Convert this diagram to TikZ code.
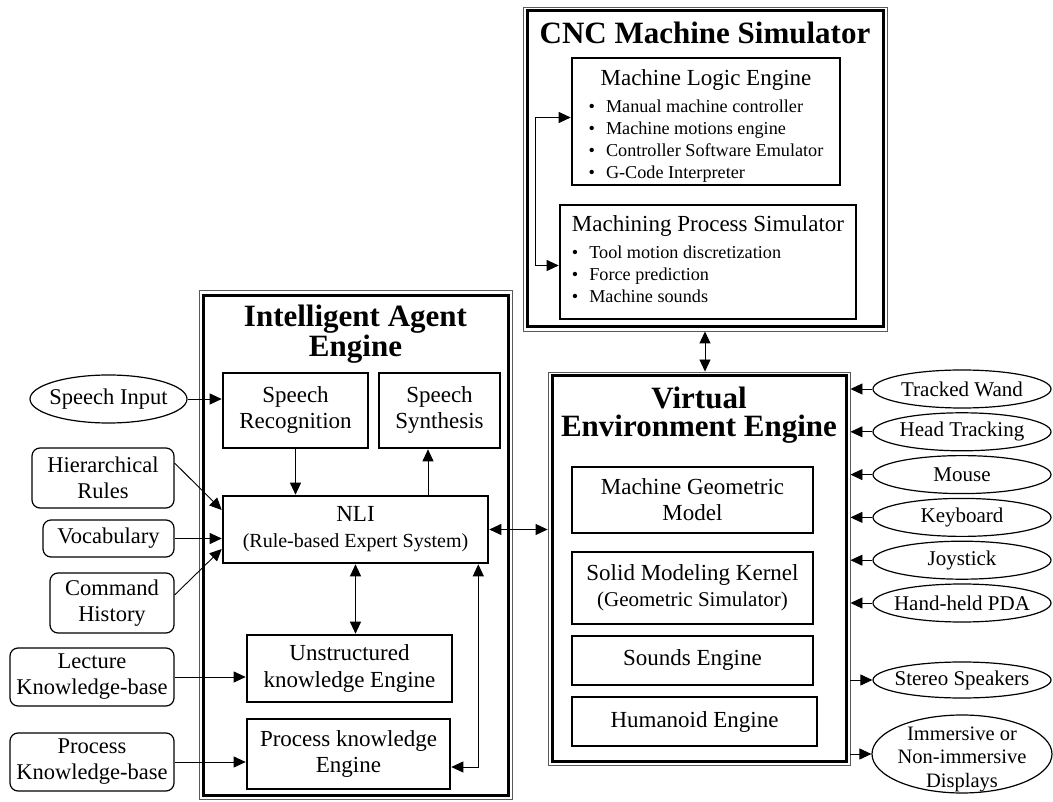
\documentclass[tikz,border=0pt]{standalone}
\usepackage{fontspec}
\setmainfont{Liberation Serif}
\usetikzlibrary{shapes.geometric,arrows.meta,positioning}
\tikzset{
  box/.style={rectangle,draw,line width=2.6pt,align=center,inner sep=0pt,
    font=\fontsize{23}{26}\selectfont},
  src/.style={rectangle,draw,line width=1.2pt,rounded corners=8pt,align=center,
    inner sep=0pt,font=\fontsize{22.5}{26}\selectfont},
  oval/.style={ellipse,draw,line width=1.2pt,align=center,inner sep=-8pt,
    minimum width=178,minimum height=38,font=\fontsize{21}{23.5}\selectfont},
  shell/.style={rectangle,draw,line width=3pt,inner sep=0pt},
  rim/.style={rectangle,draw=black!65,line width=0.9pt,inner sep=0pt},
  ttl/.style={inner sep=0pt,align=center,font=\fontsize{31}{28}\selectfont\bfseries},
  lst/.style={font=\fontsize{18.2}{22}\selectfont},
  arr/.style={-{Triangle[length=12pt,width=11pt]},line width=0.9pt},
  dbl/.style={{Triangle[length=12pt,width=11pt]}-{Triangle[length=12pt,width=11pt]},line width=0.9pt}
}
\begin{document}
\begin{tikzpicture}[x=1pt,y=-1pt]
  \useasboundingbox (0,0) rectangle (1053,802);

  % CNC machine simulator
  \node[rim,minimum width=364,minimum height=324] (cnc) at (705,169) {};
  \node[shell,minimum width=356,minimum height=316] (cncin) at (cnc) {};
  \node[ttl] (cnct) at (705,32.5) {CNC Machine Simulator};
  \node[box,lst,minimum width=268,minimum height=127] (mle) at (706,121.5) {\begin{tabular}{@{}l@{}}
    \multicolumn{1}{@{}c@{}}{\fontsize{23}{26}\selectfont\rule{0pt}{27pt}Machine Logic Engine}\\[5pt]
    \textbullet\hspace{11pt}Manual machine controller\\
    \textbullet\hspace{11pt}Machine motions engine\\
    \textbullet\hspace{11pt}Controller Software Emulator\\
    \textbullet\hspace{11pt}G-Code Interpreter
  \end{tabular}};
  \node[box,lst,minimum width=296,minimum height=114] (mps) at (708,262) {\begin{tabular}{@{}l@{}}
    \multicolumn{1}{@{}c@{}}{\fontsize{23}{26}\selectfont Machining Process Simulator}\\[5pt]
    \textbullet\hspace{11pt}Tool motion discretization\\
    \textbullet\hspace{11pt}Force prediction\\
    \textbullet\hspace{11pt}Machine sounds
  \end{tabular}};

  % intelligent agent engine
  \node[rim,minimum width=313,minimum height=509] (agent) at (355.8,545.1) {};
  \node[shell,minimum width=305,minimum height=500] (agentin) at (agent) {};
  \node[ttl] (agentt) at (355.5,334) {Intelligent Agent\\Engine};
  \node[box,minimum width=145,minimum height=75] (sr) at (295.5,410.5) {Speech\\Recognition};
  \node[box,minimum width=121,minimum height=75] (ss) at (439.5,410.5) {Speech\\Synthesis};
  \node[box,minimum width=265,minimum height=67] (nli) at (355.5,529.5) {NLI\\{\fontsize{20}{24}\selectfont(Rule-based Expert System)}};
  \node[box,minimum width=205,minimum height=67] (unst) at (349.5,668.5) {Unstructured\\knowledge Engine};
  \node[box,minimum width=203,minimum height=70] (proc) at (348.5,754) {Process knowledge\\Engine};

  % virtual environment engine
  \node[rim,minimum width=302,minimum height=393] (venv) at (699,568.5) {};
  \node[shell,minimum width=294,minimum height=385] (venvin) at (venv) {};
  \node[ttl] (venvt) at (699,415) {Virtual\\Environment Engine};
  \node[box,minimum width=241,minimum height=66] (mgm) at (692.5,500) {Machine Geometric\\Model};
  \node[box,minimum width=241,minimum height=72] (smk) at (692.5,588) {Solid Modeling Kernel\\{\fontsize{21}{24}\selectfont(Geometric Simulator)}};
  \node[box,minimum width=241,minimum height=49] (snd) at (692.5,660.5) {Sounds Engine};
  \node[box,minimum width=245,minimum height=49] (hum) at (694.5,721.5) {Humanoid Engine};

  % inputs on the left
  \node[oval,minimum width=157,minimum height=48,font=\fontsize{22.5}{26}\selectfont] (spin) at (108.5,399) {Speech Input};
  \node[src,minimum width=142,minimum height=60] (hier) at (103,478) {Hierarchical\\Rules};
  \node[src,minimum width=131,minimum height=37] (voc) at (108.5,538.5) {Vocabulary};
  \node[src,minimum width=124,minimum height=60] (cmd) at (112,603) {Command\\History};
  \node[src,minimum width=164,minimum height=58] (lect) at (92,677) {Lecture\\Knowledge-base};
  \node[src,minimum width=164,minimum height=58] (pkb) at (92,762) {Process\\Knowledge-base};

  % devices on the right
  \node[oval] (tw) at (962,389) {Tracked Wand};
  \node[oval,below=3.6pt of tw] (ht) {Head Tracking};
  \node[oval,below=3.6pt of ht] (mouse) {Mouse};
  \node[oval,below=3.6pt of mouse] (kb) {Keyboard};
  \node[oval,below=3.6pt of kb] (joy) {Joystick};
  \node[oval,below=3.6pt of joy] (pda) {Hand-held PDA};
  \node[oval,minimum height=36] (spk) at (962,680) {Stereo Speakers};
  \node[oval,minimum width=180,minimum height=78,inner ysep=-15pt,font=\fontsize{20.5}{23.5}\selectfont] (disp) at (962,754) {\rule{0pt}{24pt}Immersive or\\Non-immersive\\Displays};

  \coordinate (synin) at ([xshift=-11.5pt]ss.south);
  \coordinate (loop) at ([xshift=-23pt]mps.west);

  \draw[arr] (spin.east) -- (spin.east -| sr.west);
  \draw[arr] ([yshift=15pt]hier.east) -- ([yshift=19.5pt]nli.west);
  \draw[arr] (voc.east) -- (voc.east -| nli.west);
  \draw[arr] ([yshift=8pt]cmd.east) -- ([yshift=-19.5pt]nli.west);
  \draw[arr] (lect.east) -- (lect.east -| unst.west);
  \draw[arr] (pkb.east) -- (pkb.east -| proc.west);
  \draw[arr] (sr.south) -- (sr.south |- nli.north);
  \draw[arr] (synin |- nli.north) -- (synin);
  \draw[dbl] (nli.south) -- (nli.south |- unst.north);
  \draw[dbl] ([yshift=-13pt]proc.east) -| ([xshift=-11pt]nli.south east);
  \draw[dbl] (nli.east) -- (nli.east -| venv.west);
  \draw[dbl] (cnc.south) -- (cnc.south |- venv.north);
  \draw[dbl] ([yshift=4pt]mle.west) -| (loop) |- ([yshift=-3.5pt]mps.west);
  \foreach \n in {tw,ht,mouse,kb,joy,pda}
    \draw[arr] (\n.west) -- (\n.west -| venv.east);
  \draw[arr] (spk.west -| venv.east) -- (spk.west);
  \draw[arr] (disp.west -| venv.east) -- (disp.west);
\end{tikzpicture}
\end{document}
